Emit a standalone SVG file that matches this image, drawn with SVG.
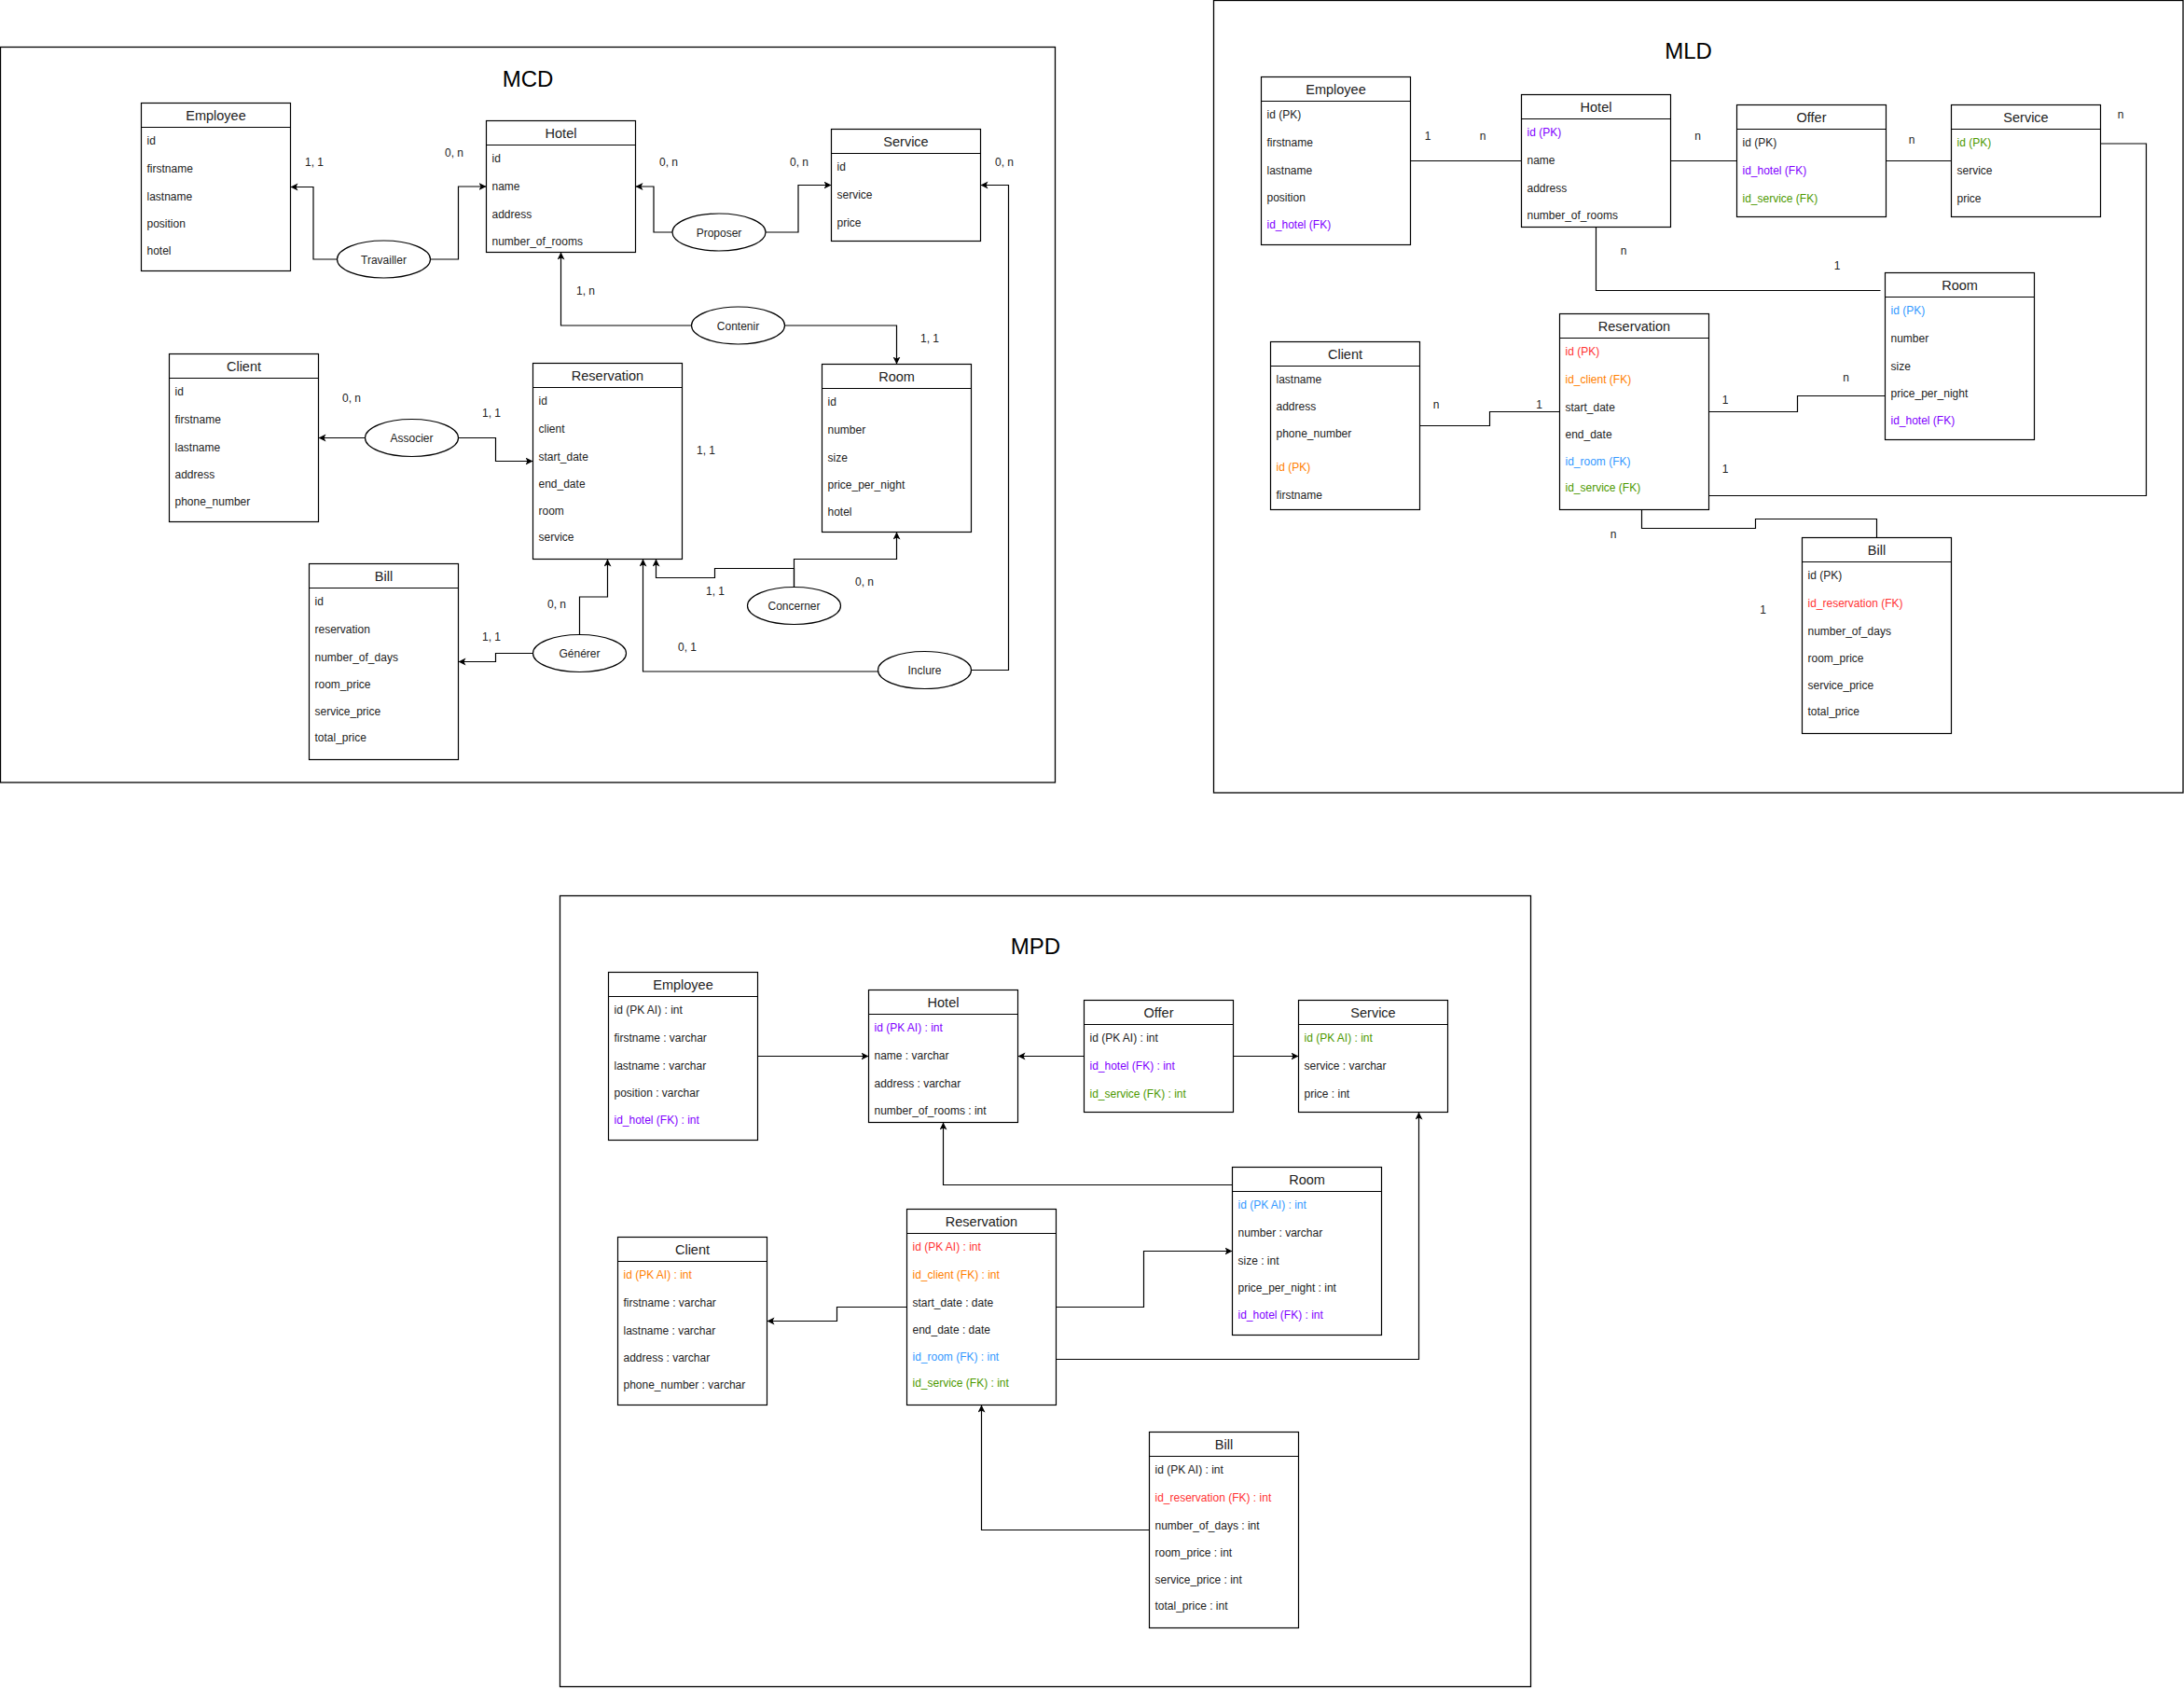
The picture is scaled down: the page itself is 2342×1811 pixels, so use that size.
<svg xmlns="http://www.w3.org/2000/svg" width="2342" height="1811" viewBox="0 0 2342 1811">
<style>
text{font-family:"Liberation Sans",Arial,Helvetica,sans-serif;fill:#222}
.frame{fill:none;stroke:#000;stroke-width:1.3}
.box{fill:#fff;stroke:#000;stroke-width:1.2}
.sep{stroke:#000;stroke-width:1.2}
.h{font-size:14.5px;text-anchor:middle}
.f{font-size:12px}
.c{font-size:12px;text-anchor:middle}
.e{font-size:12px;text-anchor:middle}
.title{font-size:24px;text-anchor:middle;fill:#000}
.rel{fill:#fff;stroke:#000;stroke-width:1.2}
.ln{fill:none;stroke:#000;stroke-width:1.2}
.ar{marker-end:url(#arr)}
.pu{fill:#7F00FF}.gr{fill:#4D9900}.or{fill:#FF8000}.rd{fill:#FF3333}.bl{fill:#3399FF}
</style>
<defs>
<marker id="arr" markerUnits="userSpaceOnUse" markerWidth="10" markerHeight="10" refX="8" refY="4" orient="auto">
<path d="M0,0 L8,4 L0,8 L2,4 z" fill="#000"/>
</marker>
</defs>
<rect width="2342" height="1811" fill="#fff"/>

<!-- ================= MCD ================= -->
<g id="mcd">
<rect class="frame" x="0.5" y="50.5" width="1131" height="788.5"/>
<text class="title" x="566" y="93">MCD</text>

<g id="mcd-connectors">
<path class="ln ar" d="M361.5,278 H336 V200.5 H311.5"/>
<path class="ln ar" d="M461.5,278 H491.5 V200 H521.5"/>
<path class="ln ar" d="M721,249 H701 V200 H681.5"/>
<path class="ln ar" d="M821,249 H856 V198.5 H891.5"/>
<path class="ln ar" d="M741.5,349 H601.5 V270.5"/>
<path class="ln ar" d="M841.5,349 H961.5 V390.5"/>
<path class="ln ar" d="M391.5,469.5 H341.5"/>
<path class="ln ar" d="M491.5,469.5 H531.5 V494.5 H571.5"/>
<path class="ln ar" d="M571.5,700.5 H531.5 V709.5 H491.5"/>
<path class="ln ar" d="M621.5,680.5 V640 H651.5 V599.5"/>
<path class="ln ar" d="M851.5,629.5 V609.5 H766.5 V619.5 H703.5 V599.5"/>
<path class="ln ar" d="M851.5,629.5 V599.5 H961.5 V570.5"/>
<path class="ln ar" d="M941.5,720 H689.5 V599.5"/>
<path class="ln ar" d="M1041.5,718.5 H1081.5 V198.5 H1051.5"/>
<text class="c" x="337" y="177.5">1, 1</text>
<text class="c" x="487" y="167.5">0, n</text>
<text class="c" x="717" y="177.5">0, n</text>
<text class="c" x="857" y="177.5">0, n</text>
<text class="c" x="1077" y="177.5">0, n</text>
<text class="c" x="628" y="316">1, n</text>
<text class="c" x="997" y="367">1, 1</text>
<text class="c" x="377" y="430.5">0, n</text>
<text class="c" x="527" y="447">1, 1</text>
<text class="c" x="757" y="487">1, 1</text>
<text class="c" x="527" y="687">1, 1</text>
<text class="c" x="597" y="651.5">0, n</text>
<text class="c" x="767" y="637.5">1, 1</text>
<text class="c" x="927" y="627.5">0, n</text>
<text class="c" x="737" y="697.5">0, 1</text>
</g>

<g id="mcd-travailler"><ellipse class="rel" cx="411.5" cy="278" rx="50" ry="20"/><text class="e" x="411.5" y="282.5">Travailler</text></g>
<g id="mcd-proposer"><ellipse class="rel" cx="771" cy="249" rx="50" ry="20"/><text class="e" x="771" y="253.5">Proposer</text></g>
<g id="mcd-contenir"><ellipse class="rel" cx="791.5" cy="349" rx="50" ry="20"/><text class="e" x="791.5" y="353.5">Contenir</text></g>
<g id="mcd-associer"><ellipse class="rel" cx="441.5" cy="469.5" rx="50" ry="20"/><text class="e" x="441.5" y="474">Associer</text></g>
<g id="mcd-generer"><ellipse class="rel" cx="621.5" cy="700.5" rx="50" ry="20"/><text class="e" x="621.5" y="705">Générer</text></g>
<g id="mcd-concerner"><ellipse class="rel" cx="851.5" cy="649.5" rx="50" ry="20"/><text class="e" x="851.5" y="654">Concerner</text></g>
<g id="mcd-inclure"><ellipse class="rel" cx="991.5" cy="718.5" rx="50" ry="20"/><text class="e" x="991.5" y="723">Inclure</text></g>

<g id="mcd-employee">
<rect class="box" x="151.5" y="110.5" width="160" height="180"/><line class="sep" x1="151.5" y1="136.5" x2="311.5" y2="136.5"/>
<text class="h" x="231.5" y="128.5">Employee</text>
<text class="f" x="157.5" y="154.5">id</text>
<text class="f" x="157.5" y="184.5">firstname</text>
<text class="f" x="157.5" y="214.5">lastname</text>
<text class="f" x="157.5" y="243.5">position</text>
<text class="f" x="157.5" y="272.5">hotel</text>
</g>
<g id="mcd-hotel">
<rect class="box" x="521.5" y="129.5" width="160" height="141"/><line class="sep" x1="521.5" y1="155.5" x2="681.5" y2="155.5"/>
<text class="h" x="601.5" y="147.5">Hotel</text>
<text class="f" x="527.5" y="173.5">id</text>
<text class="f" x="527.5" y="203.5">name</text>
<text class="f" x="527.5" y="233.5">address</text>
<text class="f" x="527.5" y="262.5">number_of_rooms</text>
</g>
<g id="mcd-service">
<rect class="box" x="891.5" y="138.5" width="160" height="120"/><line class="sep" x1="891.5" y1="164.5" x2="1051.5" y2="164.5"/>
<text class="h" x="971.5" y="156.5">Service</text>
<text class="f" x="897.5" y="182.5">id</text>
<text class="f" x="897.5" y="212.5">service</text>
<text class="f" x="897.5" y="242.5">price</text>
</g>
<g id="mcd-client">
<rect class="box" x="181.5" y="379.5" width="160" height="180"/><line class="sep" x1="181.5" y1="405.5" x2="341.5" y2="405.5"/>
<text class="h" x="261.5" y="397.5">Client</text>
<text class="f" x="187.5" y="423.5">id</text>
<text class="f" x="187.5" y="453.5">firstname</text>
<text class="f" x="187.5" y="483.5">lastname</text>
<text class="f" x="187.5" y="512.5">address</text>
<text class="f" x="187.5" y="541.5">phone_number</text>
</g>
<g id="mcd-reservation">
<rect class="box" x="571.5" y="389.5" width="160" height="210"/><line class="sep" x1="571.5" y1="415.5" x2="731.5" y2="415.5"/>
<text class="h" x="651.5" y="407.5">Reservation</text>
<text class="f" x="577.5" y="433.5">id</text>
<text class="f" x="577.5" y="463.5">client</text>
<text class="f" x="577.5" y="493.5">start_date</text>
<text class="f" x="577.5" y="522.5">end_date</text>
<text class="f" x="577.5" y="551.5">room</text>
<text class="f" x="577.5" y="579.5">service</text>
</g>
<g id="mcd-room">
<rect class="box" x="881.5" y="390.5" width="160" height="180"/><line class="sep" x1="881.5" y1="416.5" x2="1041.5" y2="416.5"/>
<text class="h" x="961.5" y="408.5">Room</text>
<text class="f" x="887.5" y="434.5">id</text>
<text class="f" x="887.5" y="464.5">number</text>
<text class="f" x="887.5" y="494.5">size</text>
<text class="f" x="887.5" y="523.5">price_per_night</text>
<text class="f" x="887.5" y="552.5">hotel</text>
</g>
<g id="mcd-bill">
<rect class="box" x="331.5" y="604.5" width="160" height="210"/><line class="sep" x1="331.5" y1="630.5" x2="491.5" y2="630.5"/>
<text class="h" x="411.5" y="622.5">Bill</text>
<text class="f" x="337.5" y="648.5">id</text>
<text class="f" x="337.5" y="678.5">reservation</text>
<text class="f" x="337.5" y="708.5">number_of_days</text>
<text class="f" x="337.5" y="737.5">room_price</text>
<text class="f" x="337.5" y="766.5">service_price</text>
<text class="f" x="337.5" y="794.5">total_price</text>
</g>
</g>

<!-- ================= MLD ================= -->
<g id="mld">
<rect class="frame" x="1301.5" y="0.5" width="1039.5" height="849.5"/>
<text class="title" x="1810.5" y="63">MLD</text>

<g id="mld-connectors">
<path class="ln" d="M1512.5,172.5 H1631.5"/>
<path class="ln" d="M1791.5,172.5 H1862.5"/>
<path class="ln" d="M2022.5,172.5 H2092.5"/>
<path class="ln" d="M2252.5,154 H2301.5 V531.5 H1832.5"/>
<path class="ln" d="M1711.5,243.5 V311.5 H2016.5"/>
<path class="ln" d="M1522.5,456.5 H1597.5 V441.5 H1672.5"/>
<path class="ln" d="M1832.5,441.5 H1927.5 V424.5 H2021.5"/>
<path class="ln" d="M1760.5,546.5 V566.5 H1882.5 V556.5 H2012.5 V576.5"/>
<text class="c" x="1531" y="150">1</text>
<text class="c" x="1590" y="150">n</text>
<text class="c" x="1820.5" y="150">n</text>
<text class="c" x="2050" y="153.5">n</text>
<text class="c" x="2274" y="126.5">n</text>
<text class="c" x="1741" y="273">n</text>
<text class="c" x="1970" y="288.5">1</text>
<text class="c" x="1540" y="437.5">n</text>
<text class="c" x="1650.5" y="437.5">1</text>
<text class="c" x="1850" y="433">1</text>
<text class="c" x="1979.5" y="408.5">n</text>
<text class="c" x="1850" y="507">1</text>
<text class="c" x="1730" y="577">n</text>
<text class="c" x="1890.5" y="657.5">1</text>
</g>

<g id="mld-employee">
<rect class="box" x="1352.5" y="82.5" width="160" height="180"/><line class="sep" x1="1352.5" y1="108.5" x2="1512.5" y2="108.5"/>
<text class="h" x="1432.5" y="100.5">Employee</text>
<text class="f" x="1358.5" y="126.5">id (PK)</text>
<text class="f" x="1358.5" y="156.5">firstname</text>
<text class="f" x="1358.5" y="186.5">lastname</text>
<text class="f" x="1358.5" y="215.5">position</text>
<text class="f pu" x="1358.5" y="244.5">id_hotel (FK)</text>
</g>
<g id="mld-hotel">
<rect class="box" x="1631.5" y="101.5" width="160" height="142"/><line class="sep" x1="1631.5" y1="127.5" x2="1791.5" y2="127.5"/>
<text class="h" x="1711.5" y="119.5">Hotel</text>
<text class="f pu" x="1637.5" y="145.5">id (PK)</text>
<text class="f" x="1637.5" y="175.5">name</text>
<text class="f" x="1637.5" y="205.5">address</text>
<text class="f" x="1637.5" y="234.5">number_of_rooms</text>
</g>
<g id="mld-offer">
<rect class="box" x="1862.5" y="112.5" width="160" height="120"/><line class="sep" x1="1862.5" y1="138.5" x2="2022.5" y2="138.5"/>
<text class="h" x="1942.5" y="130.5">Offer</text>
<text class="f" x="1868.5" y="156.5">id (PK)</text>
<text class="f pu" x="1868.5" y="186.5">id_hotel (FK)</text>
<text class="f gr" x="1868.5" y="216.5">id_service (FK)</text>
</g>
<g id="mld-service">
<rect class="box" x="2092.5" y="112.5" width="160" height="120"/><line class="sep" x1="2092.5" y1="138.5" x2="2252.5" y2="138.5"/>
<text class="h" x="2172.5" y="130.5">Service</text>
<text class="f gr" x="2098.5" y="156.5">id (PK)</text>
<text class="f" x="2098.5" y="186.5">service</text>
<text class="f" x="2098.5" y="216.5">price</text>
</g>
<g id="mld-room">
<rect class="box" x="2021.5" y="292.5" width="160" height="179"/><line class="sep" x1="2021.5" y1="318.5" x2="2181.5" y2="318.5"/>
<text class="h" x="2101.5" y="310.5">Room</text>
<text class="f bl" x="2027.5" y="336.5">id (PK)</text>
<text class="f" x="2027.5" y="366.5">number</text>
<text class="f" x="2027.5" y="396.5">size</text>
<text class="f" x="2027.5" y="425.5">price_per_night</text>
<text class="f pu" x="2027.5" y="454.5">id_hotel (FK)</text>
</g>
<g id="mld-client">
<rect class="box" x="1362.5" y="366.5" width="160" height="180"/><line class="sep" x1="1362.5" y1="392.5" x2="1522.5" y2="392.5"/>
<text class="h" x="1442.5" y="384.5">Client</text>
<text class="f" x="1368.5" y="410.5">lastname</text>
<text class="f" x="1368.5" y="439.5">address</text>
<text class="f" x="1368.5" y="468.5">phone_number</text>
<text class="f or" x="1368.5" y="504.5">id (PK)</text>
<text class="f" x="1368.5" y="534.5">firstname</text>
</g>
<g id="mld-reservation">
<rect class="box" x="1672.5" y="336.5" width="160" height="210"/><line class="sep" x1="1672.5" y1="362.5" x2="1832.5" y2="362.5"/>
<text class="h" x="1752.5" y="354.5">Reservation</text>
<text class="f rd" x="1678.5" y="380.5">id (PK)</text>
<text class="f or" x="1678.5" y="410.5">id_client (FK)</text>
<text class="f" x="1678.5" y="440.5">start_date</text>
<text class="f" x="1678.5" y="469.5">end_date</text>
<text class="f bl" x="1678.5" y="498.5">id_room (FK)</text>
<text class="f gr" x="1678.5" y="526.5">id_service (FK)</text>
</g>
<g id="mld-bill">
<rect class="box" x="1932.5" y="576.5" width="160" height="210"/><line class="sep" x1="1932.5" y1="602.5" x2="2092.5" y2="602.5"/>
<text class="h" x="2012.5" y="594.5">Bill</text>
<text class="f" x="1938.5" y="620.5">id (PK)</text>
<text class="f rd" x="1938.5" y="650.5">id_reservation (FK)</text>
<text class="f" x="1938.5" y="680.5">number_of_days</text>
<text class="f" x="1938.5" y="709.5">room_price</text>
<text class="f" x="1938.5" y="738.5">service_price</text>
<text class="f" x="1938.5" y="766.5">total_price</text>
</g>
</g>

<!-- ================= MPD ================= -->
<g id="mpd">
<rect class="frame" x="600.5" y="960.5" width="1041" height="848"/>
<text class="title" x="1110.5" y="1023">MPD</text>

<g id="mpd-connectors">
<path class="ln ar" d="M812.5,1132.5 H931.5"/>
<path class="ln ar" d="M1162.5,1132.5 H1091.5"/>
<path class="ln ar" d="M1322.5,1132.5 H1392.5"/>
<path class="ln ar" d="M1321.5,1270.5 H1011.5 V1203.5"/>
<path class="ln ar" d="M972.5,1401.5 H897.5 V1416.5 H822.5"/>
<path class="ln ar" d="M1132.5,1401.5 H1226.5 V1341.5 H1321.5"/>
<path class="ln ar" d="M1132.5,1457.5 H1521.5 V1192.5"/>
<path class="ln ar" d="M1232.5,1640.5 H1052.5 V1506.5"/>
</g>

<g id="mpd-employee">
<rect class="box" x="652.5" y="1042.5" width="160" height="180"/><line class="sep" x1="652.5" y1="1068.5" x2="812.5" y2="1068.5"/>
<text class="h" x="732.5" y="1060.5">Employee</text>
<text class="f" x="658.5" y="1086.5">id (PK AI) : int</text>
<text class="f" x="658.5" y="1116.5">firstname : varchar</text>
<text class="f" x="658.5" y="1146.5">lastname : varchar</text>
<text class="f" x="658.5" y="1175.5">position : varchar</text>
<text class="f pu" x="658.5" y="1204.5">id_hotel (FK) : int</text>
</g>
<g id="mpd-hotel">
<rect class="box" x="931.5" y="1061.5" width="160" height="142"/><line class="sep" x1="931.5" y1="1087.5" x2="1091.5" y2="1087.5"/>
<text class="h" x="1011.5" y="1079.5">Hotel</text>
<text class="f pu" x="937.5" y="1105.5">id (PK AI) : int</text>
<text class="f" x="937.5" y="1135.5">name : varchar</text>
<text class="f" x="937.5" y="1165.5">address : varchar</text>
<text class="f" x="937.5" y="1194.5">number_of_rooms : int</text>
</g>
<g id="mpd-offer">
<rect class="box" x="1162.5" y="1072.5" width="160" height="120"/><line class="sep" x1="1162.5" y1="1098.5" x2="1322.5" y2="1098.5"/>
<text class="h" x="1242.5" y="1090.5">Offer</text>
<text class="f" x="1168.5" y="1116.5">id (PK AI) : int</text>
<text class="f pu" x="1168.5" y="1146.5">id_hotel (FK) : int</text>
<text class="f gr" x="1168.5" y="1176.5">id_service (FK) : int</text>
</g>
<g id="mpd-service">
<rect class="box" x="1392.5" y="1072.5" width="160" height="120"/><line class="sep" x1="1392.5" y1="1098.5" x2="1552.5" y2="1098.5"/>
<text class="h" x="1472.5" y="1090.5">Service</text>
<text class="f gr" x="1398.5" y="1116.5">id (PK AI) : int</text>
<text class="f" x="1398.5" y="1146.5">service : varchar</text>
<text class="f" x="1398.5" y="1176.5">price : int</text>
</g>
<g id="mpd-room">
<rect class="box" x="1321.5" y="1251.5" width="160" height="180"/><line class="sep" x1="1321.5" y1="1277.5" x2="1481.5" y2="1277.5"/>
<text class="h" x="1401.5" y="1269.5">Room</text>
<text class="f bl" x="1327.5" y="1295.5">id (PK AI) : int</text>
<text class="f" x="1327.5" y="1325.5">number : varchar</text>
<text class="f" x="1327.5" y="1355.5">size : int</text>
<text class="f" x="1327.5" y="1384.5">price_per_night : int</text>
<text class="f pu" x="1327.5" y="1413.5">id_hotel (FK) : int</text>
</g>
<g id="mpd-client">
<rect class="box" x="662.5" y="1326.5" width="160" height="180"/><line class="sep" x1="662.5" y1="1352.5" x2="822.5" y2="1352.5"/>
<text class="h" x="742.5" y="1344.5">Client</text>
<text class="f or" x="668.5" y="1370.5">id (PK AI) : int</text>
<text class="f" x="668.5" y="1400.5">firstname : varchar</text>
<text class="f" x="668.5" y="1430.5">lastname : varchar</text>
<text class="f" x="668.5" y="1459.5">address : varchar</text>
<text class="f" x="668.5" y="1488.5">phone_number : varchar</text>
</g>
<g id="mpd-reservation">
<rect class="box" x="972.5" y="1296.5" width="160" height="210"/><line class="sep" x1="972.5" y1="1322.5" x2="1132.5" y2="1322.5"/>
<text class="h" x="1052.5" y="1314.5">Reservation</text>
<text class="f rd" x="978.5" y="1340.5">id (PK AI) : int</text>
<text class="f or" x="978.5" y="1370.5">id_client (FK) : int</text>
<text class="f" x="978.5" y="1400.5">start_date : date</text>
<text class="f" x="978.5" y="1429.5">end_date : date</text>
<text class="f bl" x="978.5" y="1458.5">id_room (FK) : int</text>
<text class="f gr" x="978.5" y="1486.5">id_service (FK) : int</text>
</g>
<g id="mpd-bill">
<rect class="box" x="1232.5" y="1535.5" width="160" height="210"/><line class="sep" x1="1232.5" y1="1561.5" x2="1392.5" y2="1561.5"/>
<text class="h" x="1312.5" y="1553.5">Bill</text>
<text class="f" x="1238.5" y="1579.5">id (PK AI) : int</text>
<text class="f rd" x="1238.5" y="1609.5">id_reservation (FK) : int</text>
<text class="f" x="1238.5" y="1639.5">number_of_days : int</text>
<text class="f" x="1238.5" y="1668.5">room_price : int</text>
<text class="f" x="1238.5" y="1697.5">service_price : int</text>
<text class="f" x="1238.5" y="1725.5">total_price : int</text>
</g>
</g>
</svg>
